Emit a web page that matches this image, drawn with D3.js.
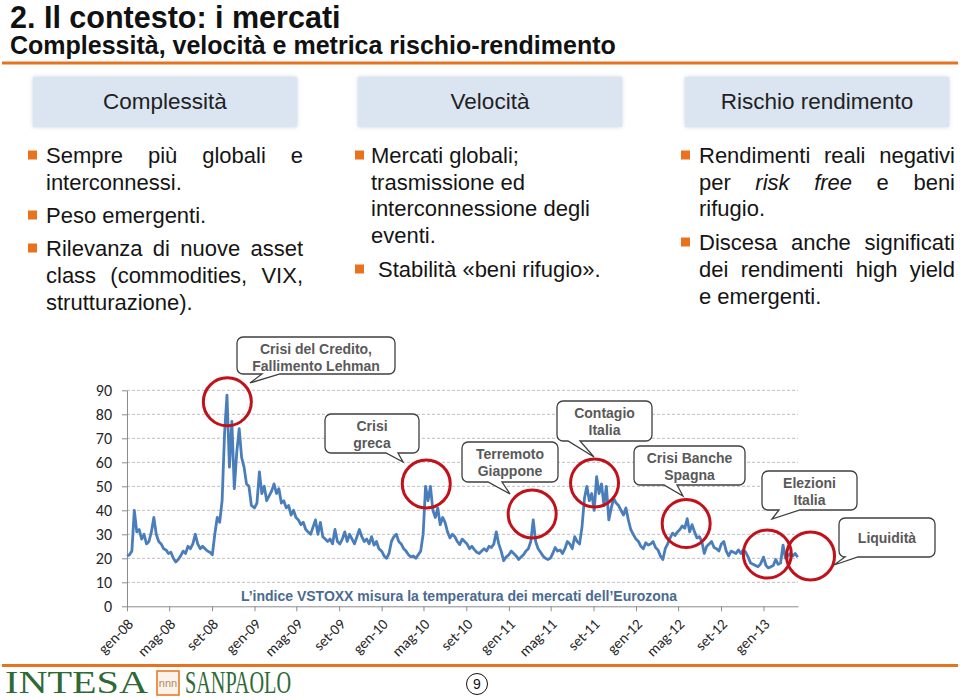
<!DOCTYPE html>
<html><head><meta charset="utf-8">
<script src="https://cdn.jsdelivr.net/npm/d3@7"></script>
<style>
body{margin:0;background:#fff}
svg{display:block}
</style></head><body>
<svg id="c" width="960" height="700"></svg>
<script>
// ---------------- DATA ----------------
const title = "2. Il contesto: i mercati";
const subtitle = "Complessità, velocità e metrica rischio-rendimento";
const boxLabels = ["Complessità", "Velocità", "Rischio rendimento"];

const col1Lines = [
  {text: "Sempre più globali e", bullet: true, just: true},
  {text: "interconnessi."},
  {text: "Peso emergenti.", bullet: true},
  {text: "Rilevanza di nuove asset", bullet: true, just: true},
  {text: "class (commodities, VIX,", just: true},
  {text: "strutturazione)."}
];
const col2Lines = [
  {text: "Mercati globali;", bullet: true},
  {text: "trasmissione ed"},
  {text: "interconnessione degli"},
  {text: "eventi."},
  {text: "Stabilità «beni rifugio».", bullet: true, indent: 7}
];
const col3Lines = [
  {text: "Rendimenti reali negativi", bullet: true, just: true},
  {text: "per *risk *free e beni", just: true},
  {text: "rifugio."},
  {text: "Discesa anche significati", bullet: true, just: true},
  {text: "dei rendimenti high yield", just: true},
  {text: "e emergenti."}
];

const yTicks = [0, 10, 20, 30, 40, 50, 60, 70, 80, 90];
const tickLabels = ["gen-08","mag-08","set-08","gen-09","mag-09","set-09","gen-10","mag-10",
  "set-10","gen-11","mag-11","set-11","gen-12","mag-12","set-12","gen-13"];
const monthIdx = {gen:0,feb:1,mar:2,apr:3,mag:4,giu:5,lug:6,ago:7,set:8,ott:9,nov:10,dic:11};

// VSTOXX, weekly readings (week i of each year)
const years = [2008, 2009, 2010, 2011, 2012, 2013];
const v2008 = [21,21.5,23,40,31,32,28,30,26,27,31,37,30,27,26,24,23.5,22,22.5,20,18.5,19.5,21,23,22,25,24,26,30,26,24,25,24,23,22.5,21.5,30,37,35,44,72,88,58,77,49,64,74,62,58,51,50,42];
const v2009 = [41,43,56,47,50,44,46,48,51,47,49,43,44,41,42,38,40,37,36,34,35,32,31,30,33,36,30,35,29,28,27,28,26,32,27,26,28,31,27,30,28,26,29,32,29,27,28,26,29,25.5,27,24];
const v2010 = [23,21,20,22,27,29,30,27,26,24,23,21.5,20.5,21,20,21.5,23,30,50,44,50,40,37,41,34,37,35,31,28.5,30,29,27,25.7,28,27,26,24,25,23.6,22.5,22,23,24,23,25,24.5,26,31,26,23,19,20.5];
const v2011 = [21.5,23,22,21,19.5,20.5,21.5,23,24,27,36,27,24,22.5,21,20,19.5,20,22,24.5,23,23.5,22,24,27,26,24,29,27,26,33,45,50,44,47,40,54,47,51,42,50,36,41,45,43,42,40,38,41,36,32,30];
const v2012 = [28,27,25,24,26.5,25.5,26,27,24.5,23.5,21,19.5,24,26,28.5,30.5,29.5,31,32,33.5,32.5,36.5,31,34,31,28.5,29,27,22,25,26,27,24.5,24,23,26,27,23,21,23,22.5,22,23.5,22,23.5,22.5,20.5,18,17.5,17,16.5,17.5];
const v2013 = [20.5,17,16,16.5,17,19.5,17.5,18,25.5,20,21,22,21,22,20.5];
const seriesByYear = [v2008, v2009, v2010, v2011, v2012, v2013];

// events: circle centre (date, level) and callout text
const events = [
  {date: "2008-10-15", level: 85.2, lines: ["Crisi del Credito,", "Fallimento Lehman"]},
  {date: "2010-05-09", level: 51,   lines: ["Crisi", "greca"]},
  {date: "2011-03-09", level: 38.5, lines: ["Terremoto", "Giappone"]},
  {date: "2011-09-04", level: 51.4, lines: ["Contagio", "Italia"]},
  {date: "2012-05-24", level: 34.5, lines: ["Crisi Banche", "Spagna"]},
  {date: "2013-01-12", level: 21.8, lines: ["Elezioni", "Italia"]},
  {date: "2013-05-16", level: 21,   lines: ["Liquidità"]}
];
const footnote = "L\u2019indice VSTOXX misura la temperatura dei mercati dell\u2019Eurozona";

// ---------------- LAYOUT ----------------
const calloutBoxes = [
  {x:237, y:337, w:158, h:37, base:[262,280], tip:[250,383]},
  {x:325, y:414, w:94,  h:39, base:[386,398], tip:[403,462]},
  {x:462, y:442, w:96,  h:40, base:[488,502], tip:[510,494]},
  {x:557, y:401, w:95,  h:40, base:[568,580], tip:[594,457]},
  {x:634, y:446, w:111, h:39, base:[664,677], tip:[683,496]},
  {x:762, y:471, w:95,  h:39, base:[779,800], tip:[772,519]},
  {x:839, y:518, w:96,  h:39, base:[845,858], tip:[834,565]}
];

const FONT = "'Liberation Sans', Arial, Helvetica, sans-serif";
const NUMFONT = "Carlito, Lato, 'Open Sans', sans-serif";
const ORANGE = "#e8721d";

const svg = d3.select("#c");
const defs = svg.append("defs");
const f = defs.append("filter").attr("id","sh").attr("x","-10%").attr("y","-30%").attr("width","120%").attr("height","160%");
f.append("feGaussianBlur").attr("in","SourceAlpha").attr("stdDeviation",2.2).attr("result","b");
f.append("feFlood").attr("flood-color","#9fb0c8").attr("flood-opacity",0.55);
f.append("feComposite").attr("in2","b").attr("operator","in").attr("result","s");
const mg = f.append("feMerge"); mg.append("feMergeNode").attr("in","s"); mg.append("feMergeNode").attr("in","SourceGraphic");

// Header
svg.append("text").attr("x",10).attr("y",28).attr("font-family",FONT).attr("font-size",30.5)
  .attr("font-weight","bold").attr("fill","#111").text(title);
svg.append("text").attr("x",10).attr("y",54).attr("font-family",FONT).attr("font-size",25)
  .attr("font-weight","bold").attr("fill","#111").text(subtitle);
svg.append("rect").attr("x",2).attr("y",61.5).attr("width",956).attr("height",3).attr("fill",ORANGE);

// Heading boxes
const boxX = [33, 358, 685];
boxLabels.forEach((lab,i)=>{
  svg.append("rect").attr("x",boxX[i]).attr("y",77).attr("width",264).attr("height",50)
    .attr("fill","#dbe5f1").attr("filter","url(#sh)");
  svg.append("text").attr("x",boxX[i]+132).attr("y",109).attr("text-anchor","middle")
    .attr("font-family",FONT).attr("font-size",22.5).attr("fill","#222").text(lab);
});

// Bullet columns
const gText = svg.append("g").attr("font-family",FONT).attr("font-size",22).attr("fill","#151515");
function drawColumn(lines, ys, bx, tx, right){
  lines.forEach((line,i)=>{
    const y = ys[i];
    const x0 = tx + (line.indent||0);
    if(line.bullet){
      gText.append("rect").attr("x",bx).attr("y",y-12.5).attr("width",9).attr("height",9).attr("fill",ORANGE);
    }
    const tokens = line.text.split(" ").map(w=>({t:w.replace(/\*/g,""), it:w.indexOf("*")>=0}));
    if(line.just){
      const els = tokens.map(tok=>gText.append("text").attr("y",y).attr("font-style",tok.it?"italic":null).text(tok.t));
      const widths = els.map(e=>e.node().getComputedTextLength());
      const gap = (right - x0 - d3.sum(widths))/(tokens.length-1);
      let cx = x0;
      els.forEach((e,k)=>{ e.attr("x",cx); cx += widths[k]+gap; });
    } else {
      const t = gText.append("text").attr("x",x0).attr("y",y);
      tokens.forEach((tok,k)=>t.append("tspan").attr("font-style",tok.it?"italic":null).text((k?" ":"")+tok.t));
    }
  });
}
drawColumn(col1Lines, [163,190,223,256,283,310], 28, 46, 303);
drawColumn(col2Lines, [163,190,216,243,277], 355, 371, 640);
drawColumn(col3Lines, [163,190,216,250,277,304], 681, 699, 955);

// ---------------- CHART ----------------
const data = [];
seriesByYear.forEach((arr,yi)=>arr.forEach((v,i)=>data.push({date:new Date(years[yi],0,1+7*i), value:v})));

const x = d3.scaleTime().domain([new Date(2008,0,1), new Date(2013,3,10)]).range([127, 798]);
const y = d3.scaleLinear().domain([0,90]).range([606.3, 390.3]);

const tickDates = tickLabels.map(l=>{const [m,yy]=l.split("-"); return new Date(2000+ +yy, monthIdx[m], 1);});

// gridlines
svg.append("g").selectAll("line").data(yTicks.filter(d=>d>0)).join("line")
  .attr("x1",127).attr("x2",798).attr("y1",d=>y(d)).attr("y2",d=>y(d))
  .attr("stroke","#bdbdbd").attr("stroke-width",1).attr("stroke-dasharray","3,2");

const yAxis = svg.append("g").attr("transform","translate(127,0)")
  .call(d3.axisLeft(y).tickValues(yTicks).tickSize(5).tickPadding(10).tickSizeOuter(0));
yAxis.select(".domain").attr("stroke","#8c8c8c");
yAxis.selectAll(".tick line").attr("stroke","#8c8c8c");
yAxis.selectAll("text").attr("font-family",NUMFONT).attr("font-size",16).attr("fill","#262626");

const xAxis = svg.append("g").attr("transform",`translate(0,${y(0)})`)
  .call(d3.axisBottom(x).tickValues(tickDates).tickFormat((d,i)=>tickLabels[i]).tickSize(5).tickSizeOuter(0));
xAxis.select(".domain").attr("stroke","#8c8c8c");
xAxis.selectAll(".tick line").attr("stroke","#8c8c8c");
xAxis.selectAll("text").attr("font-family",NUMFONT).attr("font-size",15).attr("fill","#262626")
  .attr("text-anchor","end").attr("x",0).attr("y",0).attr("dy","0.35em")
  .attr("transform","translate(3,15) rotate(-45)");

// line
svg.append("path").datum(data).attr("fill","none").attr("stroke","#4a7ebb").attr("stroke-width",2.8)
  .attr("stroke-linejoin","round")
  .attr("d", d3.line().x(d=>x(d.date)).y(d=>y(d.value)));

// footnote
svg.append("text").attr("x",459).attr("y",601).attr("text-anchor","middle").attr("font-family",FONT)
  .attr("font-size",14).attr("font-weight","bold").attr("fill","#4a6a91").text(footnote);

// circles
const parse = d3.timeParse("%Y-%m-%d");
svg.append("g").selectAll("circle").data(events).join("circle")
  .attr("cx",d=>x(parse(d.date))).attr("cy",d=>y(d.level)).attr("r",24)
  .attr("fill","none").attr("stroke","#c0121b").attr("stroke-width",3);

// callouts
function calloutPath(b){
  const r=6, {x:bx,y:by,w,h} = b;
  return `M${bx+r},${by} H${bx+w-r} A${r},${r} 0 0 1 ${bx+w},${by+r} V${by+h-r} A${r},${r} 0 0 1 ${bx+w-r},${by+h}`+
    ` H${b.base[1]} L${b.tip[0]},${b.tip[1]} L${b.base[0]},${by+h} H${bx+r} A${r},${r} 0 0 1 ${bx},${by+h-r} V${by+r} A${r},${r} 0 0 1 ${bx+r},${by} Z`;
}
events.forEach((ev,i)=>{
  const b = calloutBoxes[i];
  svg.append("path").attr("d",calloutPath(b)).attr("fill","#fff").attr("stroke","#3f3f3f").attr("stroke-width",1.3);
  const n = ev.lines.length;
  ev.lines.forEach((ln,k)=>{
    svg.append("text").attr("x",b.x+b.w/2).attr("y", n===1 ? b.y+b.h/2+5 : b.y+17+k*16.5)
      .attr("text-anchor","middle").attr("font-family",FONT).attr("font-size",14).attr("font-weight","bold")
      .attr("fill","#595959").text(ln);
  });
});

// ---------------- FOOTER ----------------
svg.append("rect").attr("x",2).attr("y",664).attr("width",956).attr("height",3).attr("fill",ORANGE);
svg.append("text").attr("x",5).attr("y",692.5).attr("font-family","'Liberation Serif','Times New Roman',serif")
  .attr("font-size",31).attr("fill","#2d6a35").attr("textLength",143).attr("lengthAdjust","spacingAndGlyphs").text("INTESA");
svg.append("rect").attr("x",157).attr("y",671).attr("width",22).attr("height",24).attr("fill","#fbf3ea")
  .attr("stroke",ORANGE).attr("stroke-width",1.5);
svg.append("text").attr("x",168).attr("y",687).attr("text-anchor","middle").attr("font-family",FONT)
  .attr("font-size",11).attr("fill","#b58a5c").text("nnn");
svg.append("text").attr("x",185).attr("y",692.5).attr("font-family","'Liberation Serif','Times New Roman',serif")
  .attr("font-size",31).attr("fill","#2d6a35").attr("textLength",106).attr("lengthAdjust","spacingAndGlyphs").text("SANPAOLO");
svg.append("circle").attr("cx",477).attr("cy",684).attr("r",10.5).attr("fill","none").attr("stroke","#111").attr("stroke-width",1);
svg.append("text").attr("x",477).attr("y",689).attr("text-anchor","middle").attr("font-family",FONT)
  .attr("font-size",14).attr("fill","#111").text("9");
</script>
</body></html>
